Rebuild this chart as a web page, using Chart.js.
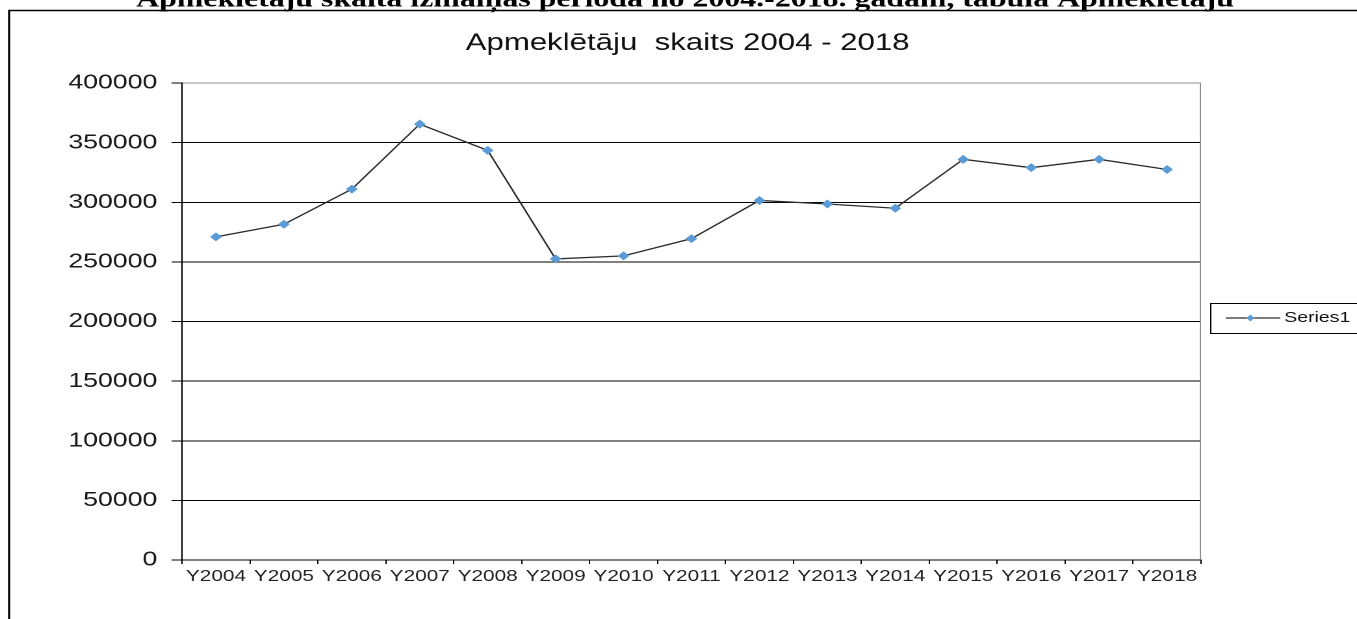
<!DOCTYPE html>
<html>
<head>
<meta charset="utf-8">
<script src="https://cdn.jsdelivr.net/npm/chart.js@4.4.1/dist/chart.umd.min.js"></script>
<style>
  html, body { margin: 0; padding: 0; background: #fff; overflow: hidden; }
  /* the source picture is stretched sideways, so the chart is drawn narrow and widened */
  #wrap { width: 1044px; height: 619px; transform: scaleX(1.2998); transform-origin: 0 0; }
</style>
</head>
<body>
<div id="wrap"><canvas id="chart"></canvas></div>
<script>
// Data
const years = ["Y2004", "Y2005", "Y2006", "Y2007", "Y2008", "Y2009", "Y2010", "Y2011",
  "Y2012", "Y2013", "Y2014", "Y2015", "Y2016", "Y2017", "Y2018"];
const visitors = [271000, 281500, 311000, 365500, 343500, 252500, 255000, 269500,
  301500, 298500, 295000, 336000, 329000, 336000, 327500];
const yTicks = [0, 50000, 100000, 150000, 200000, 250000, 300000, 350000, 400000];
const seriesName = "Series1";
const chartTitle = "Apmeklētāju  skaits 2004 - 2018";
const pageHeading = "Apmeklētāju skaita izmaiņas periodā no 2004.-2018. gadam, tabula Apmeklētāju";

const sans = "'Liberation Sans', Arial, sans-serif";

// Frame, headings, plot border and legend drawn on top
const decorations = {
  id: "decorations",
  afterDraw(chart) {
    const ctx = chart.ctx;
    const area = chart.chartArea;
    ctx.save();

    // outer frame (only top and left edges are in view)
    ctx.strokeStyle = "#000";
    ctx.lineWidth = 1.6;
    ctx.beginPath();
    ctx.moveTo(7, 700);
    ctx.lineTo(7, 10.5);
    ctx.lineTo(1100, 10.5);
    ctx.stroke();

    // heading cut off at the top
    ctx.fillStyle = "#000";
    ctx.font = "bold 24.5px 'Liberation Serif', 'Times New Roman', serif";
    ctx.textAlign = "center";
    ctx.textBaseline = "alphabetic";
    ctx.fillText(pageHeading, 527, 6.5);

    // chart title
    ctx.fillStyle = "#111";
    ctx.font = "24px " + sans;
    ctx.fillText(chartTitle, 529, 50);

    // right plot border
    ctx.strokeStyle = "#8c8c8c";
    ctx.lineWidth = 1;
    ctx.beginPath();
    ctx.moveTo(Math.round(area.right) - 0.5, area.top);
    ctx.lineTo(Math.round(area.right) - 0.5, area.bottom);
    ctx.stroke();

    // legend box
    const ds = chart.data.datasets[0];
    const ly = 318;
    ctx.strokeStyle = "#000";
    ctx.lineWidth = 1;
    ctx.strokeRect(931.5, 303.5, 200, 30);
    ctx.strokeStyle = ds.borderColor;
    ctx.lineWidth = 1.2;
    ctx.beginPath();
    ctx.moveTo(943, ly);
    ctx.lineTo(985, ly);
    ctx.stroke();
    ctx.fillStyle = ds.pointBackgroundColor;
    ctx.beginPath();
    ctx.moveTo(962, ly - 3.5);
    ctx.lineTo(965, ly);
    ctx.lineTo(962, ly + 3.5);
    ctx.lineTo(959, ly);
    ctx.closePath();
    ctx.fill();
    ctx.fillStyle = "#111";
    ctx.font = "15px " + sans;
    ctx.textAlign = "left";
    ctx.textBaseline = "middle";
    ctx.fillText(ds.label, 988, ly);

    ctx.restore();
  },
};

const chart = new Chart(document.getElementById("chart"), {
  type: "line",
  data: {
    labels: years,
    datasets: [
      {
        label: seriesName,
        data: visitors,
        borderColor: "#2b2b2b",
        borderWidth: 1.3,
        pointStyle: "rectRot",
        pointRadius: 4.5,
        pointBorderWidth: 0,
        pointBackgroundColor: "#5b9bd5",
        pointBorderColor: "#5b9bd5",
        tension: 0,
      },
    ],
  },
  options: {
    responsive: true,
    maintainAspectRatio: false,
    devicePixelRatio: 2,
    animation: false,
    layout: { padding: { left: 0, right: 120, top: 83, bottom: 0 } },
    plugins: {
      legend: { display: false },
      title: { display: false },
      tooltip: { enabled: false },
    },
    scales: {
      x: {
        type: "category",
        offset: true,
        grid: {
          offset: true,
          drawOnChartArea: false,
          drawTicks: true,
          tickLength: 4,
          tickColor: "#000",
        },
        border: { color: "#000", width: 1 },
        ticks: {
          color: "#222",
          font: { family: sans, size: 16 },
          padding: 3,
          maxRotation: 0,
          autoSkip: false,
        },
        afterFit: (scale) => { scale.height = 59; },
      },
      y: {
        min: 0,
        max: 400000,
        afterBuildTicks: (scale) => { scale.ticks = yTicks.map((v) => ({ value: v })); },
        grid: {
          color: (c) => (c.tick && c.tick.value === 400000 ? "#8c8c8c" : "#000"),
          tickColor: "#000",
          tickLength: 8,
          lineWidth: 1,
        },
        border: { color: "#000", width: 1 },
        ticks: {
          color: "#1a1a1a",
          font: { family: sans, size: 20.5 },
          padding: 11,
          callback: (v) => String(v),
        },
        afterFit: (scale) => { scale.width = 140; },
      },
    },
  },
  plugins: [decorations],
});
</script>
</body>
</html>
